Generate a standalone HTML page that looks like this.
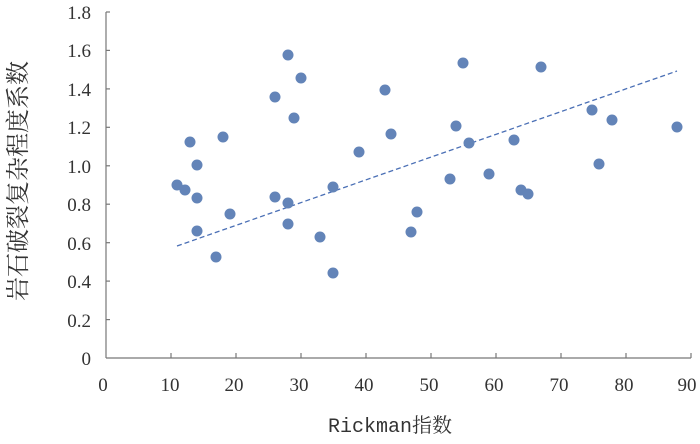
<!DOCTYPE html>
<html><head><style>body{margin:0;background:#fff}svg text{font-family:"Liberation Serif","Noto Serif CJK SC",serif;fill:#333}</style></head>
<body>
<svg width="700" height="439" viewBox="0 0 700 439" xmlns="http://www.w3.org/2000/svg">
<g stroke="#777" stroke-width="1.2">
<line x1="106" y1="12" x2="106" y2="358"/>
<line x1="106" y1="358" x2="691" y2="358"/>
<line x1="106" y1="12" x2="110" y2="12"/><line x1="106" y1="50.4" x2="110" y2="50.4"/><line x1="106" y1="88.9" x2="110" y2="88.9"/><line x1="106" y1="127.3" x2="110" y2="127.3"/><line x1="106" y1="165.8" x2="110" y2="165.8"/><line x1="106" y1="204.2" x2="110" y2="204.2"/><line x1="106" y1="242.7" x2="110" y2="242.7"/><line x1="106" y1="281.1" x2="110" y2="281.1"/><line x1="106" y1="319.6" x2="110" y2="319.6"/>
<line x1="171" y1="358" x2="171" y2="353"/><line x1="236" y1="358" x2="236" y2="353"/><line x1="301" y1="358" x2="301" y2="353"/><line x1="366" y1="358" x2="366" y2="353"/><line x1="431" y1="358" x2="431" y2="353"/><line x1="496" y1="358" x2="496" y2="353"/><line x1="561" y1="358" x2="561" y2="353"/><line x1="626" y1="358" x2="626" y2="353"/><line x1="691" y1="358" x2="691" y2="353"/>
</g>
<g font-size="19" text-anchor="end">
<text x="91" y="19">1.8</text><text x="91" y="57">1.6</text><text x="91" y="96">1.4</text><text x="91" y="134">1.2</text><text x="91" y="173">1.0</text><text x="91" y="211">0.8</text><text x="91" y="250">0.6</text><text x="91" y="288">0.4</text><text x="91" y="327">0.2</text><text x="91" y="365">0</text>
</g>
<g font-size="19" text-anchor="middle">
<text x="103" y="391">0</text><text x="170" y="391">10</text><text x="234" y="391">20</text><text x="299" y="391">30</text><text x="364" y="391">40</text><text x="429" y="391">50</text><text x="494" y="391">60</text><text x="559" y="391">70</text><text x="624" y="391">80</text><text x="687" y="391">90</text>
<text x="390" y="432" font-size="20" style="font-family:'Liberation Mono','Noto Serif CJK SC',monospace">Rickman指数</text>
<text transform="translate(26,181) rotate(-90)" font-size="24" style="font-family:'Noto Serif CJK SC',serif">岩石破裂复杂程度系数</text>
</g>
<line x1="177" y1="246" x2="677" y2="71" stroke="#4a6fb5" stroke-width="1.3" stroke-dasharray="5,3"/>
<g fill="#6384b8">
<circle cx="177" cy="185" r="5.5"/><circle cx="185" cy="190" r="5.5"/><circle cx="190" cy="142" r="5.5"/><circle cx="197" cy="165" r="5.5"/><circle cx="197" cy="198" r="5.5"/><circle cx="197" cy="231" r="5.5"/><circle cx="216" cy="257" r="5.5"/><circle cx="223" cy="137" r="5.5"/><circle cx="230" cy="214" r="5.5"/><circle cx="275" cy="97" r="5.5"/><circle cx="275" cy="197" r="5.5"/><circle cx="288" cy="55" r="5.5"/><circle cx="288" cy="203" r="5.5"/><circle cx="288" cy="224" r="5.5"/><circle cx="294" cy="118" r="5.5"/><circle cx="301" cy="78" r="5.5"/><circle cx="320" cy="237" r="5.5"/><circle cx="333" cy="187" r="5.5"/><circle cx="333" cy="273" r="5.5"/><circle cx="359" cy="152" r="5.5"/><circle cx="385" cy="90" r="5.5"/><circle cx="391" cy="134" r="5.5"/><circle cx="411" cy="232" r="5.5"/><circle cx="417" cy="212" r="5.5"/><circle cx="450" cy="179" r="5.5"/><circle cx="456" cy="126" r="5.5"/><circle cx="463" cy="63" r="5.5"/><circle cx="469" cy="143" r="5.5"/><circle cx="489" cy="174" r="5.5"/><circle cx="514" cy="140" r="5.5"/><circle cx="521" cy="190" r="5.5"/><circle cx="528" cy="194" r="5.5"/><circle cx="541" cy="67" r="5.5"/><circle cx="592" cy="110" r="5.5"/><circle cx="599" cy="164" r="5.5"/><circle cx="612" cy="120" r="5.5"/><circle cx="677" cy="127" r="5.5"/>
</g>
</svg>
</body></html>
